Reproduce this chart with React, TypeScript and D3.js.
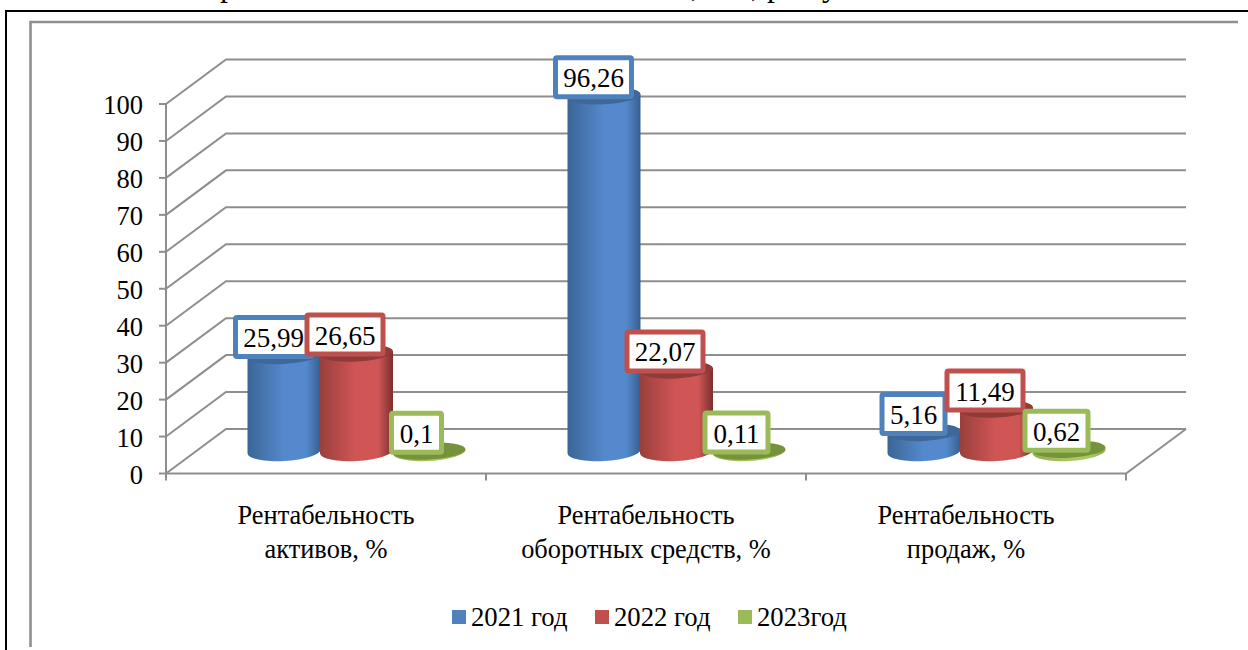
import React from "react";
import * as d3 from "d3";

const categories: string[][] = [
  ["Рентабельность", "активов, %"],
  ["Рентабельность", "оборотных средств, %"],
  ["Рентабельность", "продаж, %"],
];
const seriesNames = ["2021 год", "2022 год", "2023год"];
const values2021 = [25.99, 96.26, 5.16];
const values2022 = [26.65, 22.07, 11.49];
const values2023 = [0.1, 0.11, 0.62];
const valueTexts2021 = ["25,99", "96,26", "5,16"];
const valueTexts2022 = ["26,65", "22,07", "11,49"];
const valueTexts2023 = ["0,1", "0,11", "0,62"];
const axisTicks = [0, 10, 20, 30, 40, 50, 60, 70, 80, 90, 100];
// Descenders of the paragraph line that runs off the top of the page
const clippedGlyphs: [string, number][] = [["р", 228], [",", 695], [",", 755], ["р", 775], ["у", 830]];

const series = [
  { id: "a", name: seriesNames[0], values: values2021, texts: valueTexts2021, main: "#4f81bd", edgeL: "#3a6596", mid: "#5589cd", edgeR: "#375f8e", top: "#3f6899" },
  { id: "b", name: seriesNames[1], values: values2022, texts: valueTexts2022, main: "#c0504d", edgeL: "#9a3f3c", mid: "#d05656", edgeR: "#7a2f2d", top: "#8f3b39" },
  { id: "c", name: seriesNames[2], values: values2023, texts: valueTexts2023, main: "#9bbb59", edgeL: "#8fae50", mid: "#a6c860", edgeR: "#8fae50", top: "#76923c" },
];

const FONT = "'Liberation Serif', 'Times New Roman', serif";
const GRID = "#8e8e8e";
const GRID_W = 2;

// Plot box and the oblique offset of the back wall
const frontLeft = 166;
const frontRight = 1126;
const depthX = 60;
const depthY = -44.5;

const y = d3.scaleLinear().domain([0, 100]).range([473.5, 104]);
const xCat = d3.scaleBand<number>().domain([0, 1, 2]).range([frontLeft, frontRight]);

const columnStep = 72.5;
const columnRx = 36.5;
const columnRy = 9.5;
const baseDrop = 22; // cylinder base centre above the front floor edge
const tilt = 3; // degrees the cylinder ellipses lean under the projection
const tiltDy = columnRx * Math.sin((tilt * Math.PI) / 180);

export default function App() {
  const gridPath = d3.line<[number, number]>();
  return (
    <svg width={1248} height={650} style={{ position: "absolute", left: 0, top: 0, background: "#fff" }} fontFamily={FONT}>
      <defs>
        {series.map((s) => (
          <linearGradient key={s.id} id={`cyl-${s.id}`} x1="0" x2="1" y1="0" y2="0">
            <stop offset="0" stopColor={s.edgeL} />
            <stop offset="0.5" stopColor={s.mid} />
            <stop offset="0.8" stopColor={s.mid} />
            <stop offset="1" stopColor={s.edgeR} />
          </linearGradient>
        ))}
      </defs>

      {clippedGlyphs.map(([g, gx], i) => (
        <text key={i} x={gx} y={-4} fontSize={32} textAnchor="middle" fill="#000">{g}</text>
      ))}

      {/* Page frame and chart area */}
      <path d="M6 650V11H1248" fill="none" stroke="#000" strokeWidth={2} />
      <path d="M30.5 647V22H1238" fill="none" stroke="#8f8f8f" strokeWidth={2.6} />

      {/* Back wall gridlines and side wall */}
      {axisTicks.map((t) => (
        <path
          key={t}
          d={gridPath([
            [frontLeft, y(t)],
            [frontLeft + depthX, y(t) + depthY],
            [frontRight + depthX, y(t) + depthY],
          ]) ?? ""}
          fill="none"
          stroke={GRID}
          strokeWidth={GRID_W}
        />
      ))}
      {/* Floor front edge and right edge */}
      <path
        d={gridPath([
          [frontLeft, y(0)],
          [frontRight, y(0)],
          [frontRight + depthX, y(0) + depthY],
        ]) ?? ""}
        fill="none"
        stroke={GRID}
        strokeWidth={GRID_W}
      />
      {/* Value axis */}
      <line x1={frontLeft} x2={frontLeft} y1={y(100)} y2={y(0)} stroke={GRID} strokeWidth={GRID_W} />
      {axisTicks.map((t) => (
        <g key={t}>
          <line x1={frontLeft - 7} x2={frontLeft} y1={y(t)} y2={y(t)} stroke={GRID} strokeWidth={GRID_W} />
          <text x={frontLeft - 23} y={y(t) + 10} textAnchor="end" fontSize={26.5} fill="#000">{t}</text>
        </g>
      ))}
      {/* Category ticks and labels */}
      {[0, 1, 2, 3].map((i) => (
        <line
          key={i}
          x1={frontLeft + i * xCat.bandwidth()}
          x2={frontLeft + i * xCat.bandwidth()}
          y1={y(0)}
          y2={y(0) + 7}
          stroke={GRID}
          strokeWidth={GRID_W}
        />
      ))}
      {categories.map((lines, i) => (
        <text key={i} textAnchor="middle" fontSize={26.4} fill="#000">
          {lines.map((line, j) => (
            <tspan key={j} x={(xCat(i) ?? 0) + xCat.bandwidth() / 2} y={524 + j * 34}>{line}</tspan>
          ))}
        </text>
      ))}

      {/* Cylinders */}
      {categories.map((_, c) => {
        const baseY = y(0) - baseDrop;
        return series.map((s, k) => {
          const cx = (xCat(c) ?? 0) + 118 + k * columnStep;
          const topY = y(s.values[c]) - baseDrop;
          const xl = cx - columnRx;
          const xr = cx + columnRx;
          const body = `M${xl} ${topY + tiltDy}L${xl} ${baseY + tiltDy}A${columnRx} ${columnRy} ${-tilt} 0 0 ${xr} ${baseY - tiltDy}L${xr} ${topY - tiltDy}Z`;
          return (
            <g key={`${c}-${s.id}`}>
              <path d={body} fill={`url(#cyl-${s.id})`} />
              <ellipse cx={cx} cy={topY} rx={columnRx} ry={columnRy - 1} fill={s.top} transform={`rotate(${-tilt} ${cx} ${topY})`} />
            </g>
          );
        });
      })}

      {/* Data labels */}
      {categories.map((_, c) =>
        series.map((s, k) => {
          const cx = (xCat(c) ?? 0) + 117.5 + k * 71.5 - 10;
          const cy = y(s.values[c]) - baseDrop - 18.5;
          const w = 16 + 13 * s.texts[c].length;
          return (
            <g key={`${c}-${s.id}-label`}>
              <rect x={cx - w / 2 + 2.5} y={cy - 19.5} width={w - 5} height={39} rx={1.5} fill="#fff" stroke={s.main} strokeWidth={5} />
              <text x={cx} y={cy + 10} textAnchor="middle" fontSize={27} fill="#000">{s.texts[c]}</text>
            </g>
          );
        })
      )}

      {/* Legend */}
      {series.map((s, i) => {
        const lx = 452 + i * 143;
        return (
          <g key={s.id}>
            <rect x={lx} y={610} width={14} height={14} fill={s.main} />
            <text x={lx + 19} y={626} fontSize={26.7} fill="#000">{s.name}</text>
          </g>
        );
      })}
    </svg>
  );
}
